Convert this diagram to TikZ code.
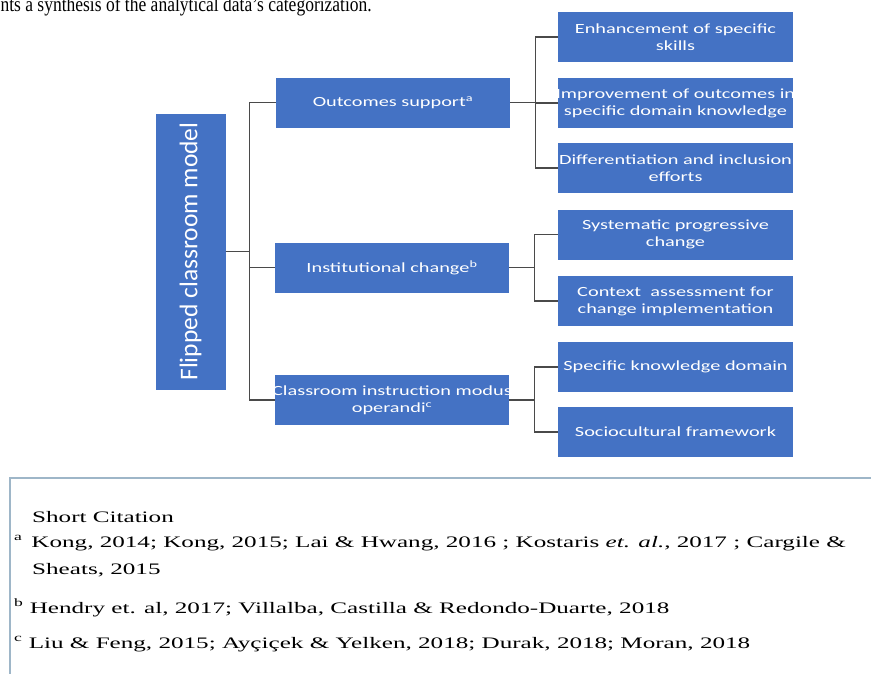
\documentclass[tikz,border=0pt]{standalone}
\usepackage{fontspec}
\setmainfont{Liberation Serif}
\newfontfamily\boxfont[FakeStretch=1.45]{Carlito}
\newfontfamily\rootfont{Carlito}
\newfontfamily\citefont[FakeStretch=1.57]{Liberation Serif}
\usepackage{tikz}
\usetikzlibrary{positioning}

\definecolor{boxblue}{HTML}{4472C4}
\definecolor{linkgray}{HTML}{4A4A4A}
\definecolor{framegray}{HTML}{9EB6C8}

\newcommand{\wideline}[1]{\makebox[230pt][c]{#1}}

\begin{document}
\begin{tikzpicture}[
        x=1pt, y=-1pt,
        catbox/.style={rectangle, fill=boxblue, text=white, align=center,
                       minimum width=235pt, minimum height=50pt, inner sep=0pt,
                       font=\boxfont\fontsize{14}{17}\selectfont},
        rootbox/.style={rectangle, fill=boxblue, text=white, rotate=90,
                        minimum width=276pt, minimum height=70pt, inner sep=0pt,
                        font=\rootfont\fontsize{25.5}{30}\selectfont},
        link/.style={draw=linkgray, line width=1.2pt},
        citeline/.style={anchor=base west, inner sep=0pt,
                         font=\citefont\fontsize{16}{19}\selectfont}
    ]
        \useasboundingbox (0,0) rectangle (871,673);
        \clip (0,0) rectangle (871,673);

        % running text above the figure
        \node[anchor=base east, inner sep=0pt, font=\fontsize{17.5}{20}\selectfont] (intro) at (372,11)
            {\scalebox{1}[1.2]{nts a synthesis of the analytical data's categorization.}};

        % tree
        \node[rootbox] (root) at (190.5,251.5) {Flipped classroom model};

        \node[catbox, minimum width=234pt] (outc) at (393,102.5) {Outcomes support\textsuperscript{a}};
        \node[catbox, minimum width=234pt] (inst) at (392,267.5) {Institutional change\textsuperscript{b}};
        \node[catbox, minimum width=234pt] (clas) at (392,400) {\wideline{Classroom instruction modus}\\operandi\textsuperscript{c}};

        \node[catbox] (skills) at (675.5,37) {Enhancement of specific\\skills};
        \node[catbox] (domain) at (675.5,103) {\wideline{Improvement of outcomes in}\\\wideline{specific domain knowledge}};
        \node[catbox] (inclus) at (675.5,168) {Differentiation and inclusion\\efforts};
        \node[catbox] (system) at (675.5,234.5) {Systematic progressive\\change};
        \node[catbox] (context) at (675.5,301) {Context~ assessment for\\change implementation};
        \node[catbox] (knowl) at (675.5,367) {Specific knowledge domain};
        \node[catbox] (socio) at (675.5,432) {Sociocultural framework};

        \draw[link] (root.south) -- ++(24,0) |- (outc.west);
        \draw[link] (root.south) -- ++(24,0) |- (inst.west);
        \draw[link] (root.south) -- ++(24,0) |- (clas.west);

        \draw[link] (outc.east) -- ++(25,0) |- (skills.west);
        \draw[link] (outc.east) -- ++(25,0) |- (domain.west);
        \draw[link] (outc.east) -- ++(25,0) |- (inclus.west);
        \draw[link] (inst.east) -- ++(25,0) |- (system.west);
        \draw[link] (inst.east) -- ++(25,0) |- (context.west);
        \draw[link] (clas.east) -- ++(25,0) |- (knowl.west);
        \draw[link] (clas.east) -- ++(25,0) |- (socio.west);

        % citation panel
        \draw[draw=framegray, line width=1.5pt, fill=white] (10,478) rectangle (890,700);
        \node[citeline] (cthead) at (32,522) {Short Citation};
        \node[citeline] (cta) at (14,547) {\textsuperscript{a}\, Kong, 2014; Kong, 2015; Lai \& Hwang, 2016 ; Kostaris \textit{et. al.}, 2017 ; Cargile \&};
        \node[citeline] (cta2) at (32,574) {Sheats, 2015};
        \node[citeline] (ctb) at (14,613) {\textsuperscript{b} Hendry et. al, 2017; Villalba, Castilla \& Redondo-Duarte, 2018};
        \node[citeline] (ctc) at (14,648) {\textsuperscript{c} Liu \& Feng, 2015; Ayçiçek \& Yelken, 2018; Durak, 2018; Moran, 2018};
    \end{tikzpicture}
\end{document}
